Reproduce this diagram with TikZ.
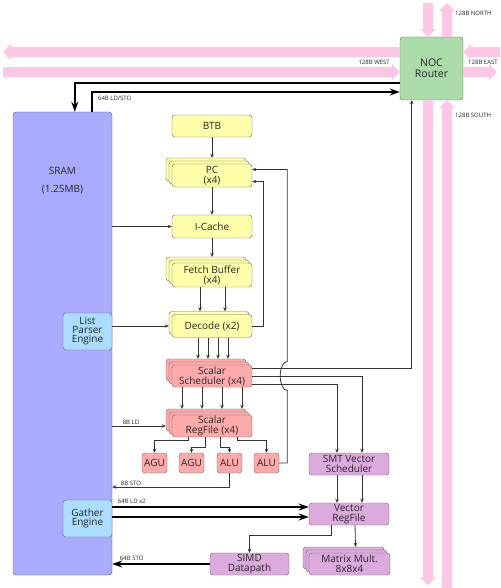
\documentclass[tikz,border=0pt]{standalone}
\usepackage{fontspec}
\setmainfont{Open Sans}
\usepackage{tikz}
\usetikzlibrary{arrows.meta, positioning, calc, shadows}
\usepackage{xcolor}

\definecolor{yelfill}{HTML}{FFFFAA}
\definecolor{redfill}{HTML}{FFAAAA}
\definecolor{vecfill}{HTML}{DDAADD}
\definecolor{engfill}{HTML}{AADDFF}
\definecolor{sramfill}{HTML}{AAAAFF}
\definecolor{nocfill}{HTML}{AADDAA}
\definecolor{nocpink}{HTML}{FFC6E6}
\definecolor{boxedge}{HTML}{666666}

\begin{document}
\begin{tikzpicture}[x=1pt, y=-1pt, >=Stealth,
    box/.style={draw=boxedge, rounded corners=3pt, inner sep=1pt, align=center,
        font=\fontsize{10}{10}\selectfont, text=black!85},
    fetchbox/.style={box, fill=yelfill, minimum width=80pt, minimum height=23pt},
    scalbox/.style={box, fill=redfill, minimum width=80pt, minimum height=22pt},
    unitbox/.style={box, fill=redfill, minimum width=25pt, minimum height=20pt},
    vecbox/.style={box, fill=vecfill, minimum width=80pt, minimum height=22pt},
    engbox/.style={box, fill=engfill, minimum width=49pt, minimum height=37pt,
        font=\fontsize{10}{9}\selectfont},
    stack4/.style={copy shadow={shadow xshift=-6pt, shadow yshift=6pt},
        copy shadow={shadow xshift=-3pt, shadow yshift=3pt}},
    stack2/.style={copy shadow={shadow xshift=-3pt, shadow yshift=3pt}},
    link/.style={-{Stealth[length=4pt,width=3.5pt]}, draw=black!80, line width=0.8pt},
    bus/.style={-{Stealth[length=10pt,width=7pt]}, line width=2.6pt},
    nocarrow/.style={draw=nocpink, line width=10pt, -{Triangle[length=8pt,width=16pt]}},
    tag/.style={font=\fontsize{6}{6}\selectfont, text=black!85, inner sep=1pt}]
    \useasboundingbox (0,0) rectangle (500,588);

    % memory and engines
    \node[box, fill=sramfill, minimum width=99pt, minimum height=463pt] (sram) at (62.5,343.5) {};
    \node[font=\fontsize{10}{10}\selectfont, text=black!85, align=center] (sramname)
        at ($(sram.north)+(0,69)$) {SRAM\\[8pt](1.25MB)};
    \node[engbox] (lpe) at (87.5,331.5) {List\\Parser\\Engine};
    \node[engbox] (gath) at (87.5,518.5) {Gather\\Engine};

    % front end
    \node[fetchbox, minimum height=22pt] (btb) at (212,126) {BTB};
    \node[fetchbox, stack4] (pc) at (212,175.5) {PC\\(x4)};
    \node[fetchbox] (icache) at (212,226.5) {I-Cache};
    \node[fetchbox, stack4, minimum height=24pt] (fetch) at (212,275) {Fetch Buffer\\(x4)};
    \node[fetchbox, stack2] (decode) at (212,326) {Decode (x2)};

    % scalar back end
    \node[scalbox, stack4] (ssched) at (212,376) {Scalar\\Scheduler (x4)};
    \node[scalbox, stack4] (sregf) at (212,426) {Scalar\\RegFile (x4)};
    \node[unitbox] (agu1) at (154.5,463) {AGU};
    \node[unitbox] (agu2) at (191.5,463) {AGU};
    \node[unitbox] (alu1) at (229.5,463) {ALU};
    \node[unitbox] (alu2) at (266.5,463) {ALU};

    % vector back end
    \node[vecbox] (smt) at (349,464) {SMT Vector\\Scheduler};
    \node[vecbox] (vrf) at (349,514) {Vector\\RegFile};
    \node[vecbox, minimum width=79pt] (simd) at (249.5,564) {SIMD\\Datapath};
    \node[vecbox, stack4, minimum width=81pt] (mmul) at (349.5,564) {Matrix Mult.\\8x8x4};

    % network
    \node[box, fill=nocfill, minimum size=63pt, font=\fontsize{10.5}{11}\selectfont] (noc) at (431.5,68.5) {NOC\\Router};
    \coordinate (wout) at (3,52);
    \coordinate (win) at (3,72);
    \coordinate (ein) at (500,52);
    \coordinate (eout) at (497,72);
    \coordinate (nin) at (428,3);
    \coordinate (nout) at (447,3);
    \coordinate (sout) at (428,585);
    \coordinate (sin) at (447,588);
    \draw[nocarrow] ($(noc.west)+(0,-16.5)$) -- (wout);
    \draw[nocarrow] (win) -- ($(noc.west)+(0,3.5)$);
    \draw[nocarrow] (ein) -- ($(noc.east)+(0,-16.5)$);
    \draw[nocarrow] ($(noc.east)+(0,3.5)$) -- (eout);
    \draw[nocarrow] (nin) -- ($(noc.north)+(-3.5,0)$);
    \draw[nocarrow] ($(noc.north)+(15.5,0)$) -- (nout);
    \draw[nocarrow] ($(noc.south)+(-3.5,0)$) -- (sout);
    \draw[nocarrow] (sin) -- ($(noc.south)+(15.5,0)$);
    \node[tag, anchor=east] (wlab) at (391,62) {128B WEST};
    \node[tag, anchor=west] (elab) at (467,62) {128B EAST};
    \node[tag, anchor=west] (nlab) at (454,13) {128B NORTH};
    \node[tag, anchor=west] (slab) at (454,115) {128B SOUTH};

    % front end links
    \draw[link] (btb) -- ($(pc.north)+(0,-6)$);
    \draw[link] (pc) -- (icache);
    \draw[link] (icache) -- ($(fetch.north)+(0,-6)$);
    \draw[link] (sram.east |- icache) -- (icache);
    \foreach \dx in {-12,13}
        \draw[link] ($(fetch.south)+(\dx,0)$) -- ($(decode.north)+(\dx,-3)$);
    \draw[link] (lpe.east |- decode) -- ($(decode.west)+(-3,0)$);
    \foreach \dx in {-14,-4,6,16}
        \draw[link] ($(decode.south)+(\dx,0)$) -- ($(ssched.north)+(\dx,-6)$);
    \draw[link] (decode.east) -- ++(11,0) |- ($(pc.east)+(0,6)$);

    % scalar links
    \foreach \dx in {-30,-10,10,30}
        \draw[link] ($(ssched.south)+(\dx,0)$) -- ($(sregf.north)+(\dx,-6)$);
    \draw[link] ($(sregf.south)+(-24,0)$) -- ++(0,3) -| (agu1);
    \draw[link] ($(sregf.south)+(-7,0)$) -- ++(0,10) -| (agu2);
    \draw[link] ($(sregf.south)+(8,0)$) -- ++(0,10) -| (alu1);
    \draw[link] ($(sregf.south)+(25,0)$) -- ++(0,3) -| (alu2);
    \coordinate (hopb) at ($(ssched.east)+(35,14.5)$);
    \draw[link] (alu2.east) -- (alu2.east -| hopb) -- (hopb)
        arc[start angle=270, end angle=90, x radius=7pt, y radius=14.5pt]
        -- ($(pc.east)+(35,-6)$) -- ($(pc.east)+(0,-6)$);
    \draw[link] (sram.east |- sregf) -- node[tag, pos=.35, above] {8B LD} ($(sregf.west)+(-6,0)$);
    \draw[link] (alu1) |- node[tag, pos=.92, above] {8B STO} ($(sram.east)+(0,143.5)$);

    % scheduler to network and vector
    \draw[link] ($(ssched.east)+(0,-8)$) -| ($(noc.south west)+(12,0)$);
    \draw[link] (ssched.east) -| ($(smt.north)+(13,0)$);
    \draw[link] ($(ssched.east)+(0,8)$) -| ($(smt.north)+(-12,0)$);
    \foreach \dx in {-12,13}
        \draw[link] ($(smt.south)+(\dx,0)$) -- ($(vrf.north)+(\dx,0)$);
    \draw[link] ($(vrf.south)+(-18,0)$) -- ++(0,10) -| (simd);
    \draw[link] ($(vrf.south)+(6,0)$) -- ($(mmul.north)+(6,-6)$);

    % wide buses
    \draw[bus] ($(gath.east)+(0,-11.5)$) -- node[tag, pos=.1, above, yshift=1pt] {64B LD x2} ($(vrf.west)+(0,-7)$);
    \draw[bus] ($(gath.east)+(0,-1.5)$) -- ($(vrf.west)+(0,3)$);
    \draw[bus] (simd) -- node[tag, pos=.8, above, yshift=1pt] {64B STO} (sram.east |- simd);
    \draw[bus] ($(noc.west)+(0,14.5)$) -| ($(sram.north west)+(62,0)$);
    \draw[bus] ($(sram.north west)+(79,0)$) |- node[tag, pos=.5, anchor=north west, xshift=4pt, yshift=-2pt] {64B LD/STO} ($(noc.west)+(0,23.5)$);
\end{tikzpicture}
\end{document}
